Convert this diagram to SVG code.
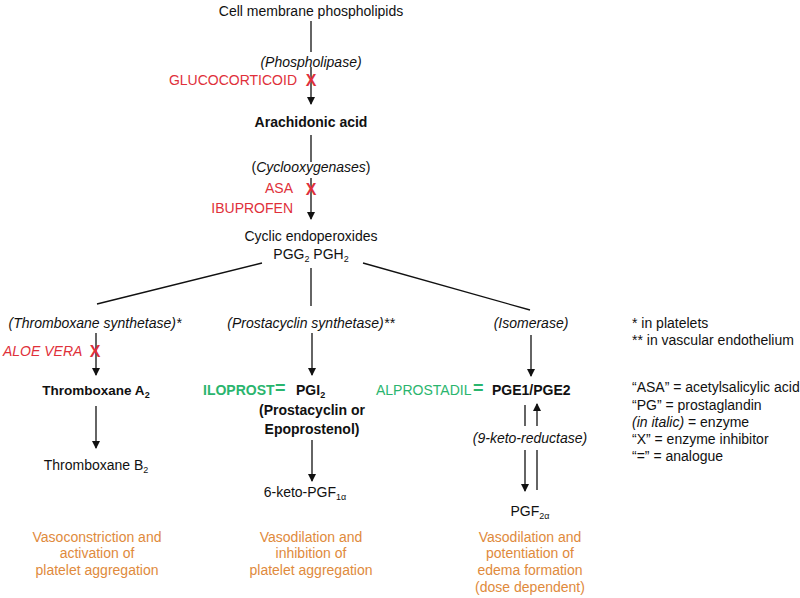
<svg xmlns="http://www.w3.org/2000/svg" width="800" height="598" viewBox="0 0 800 598">
<style>
text{font-family:"Liberation Sans",Arial,sans-serif;font-size:14px;fill:#111}
.c{text-anchor:middle}
.e{text-anchor:end}
.b{font-weight:bold}
.i{font-style:italic}
.red{fill:#e0303a}
.grn{fill:#2ab56e}
.org{fill:#e08a3c}
.x{fill:#e0303a;font-size:16px;font-weight:bold}
.eq{font-size:18px;font-weight:bold;fill:#2ab56e}
.ln{stroke:#111;stroke-width:1.3;fill:none}
.sub{font-size:9px}
</style>
<defs>
<marker id="ad" markerWidth="8" markerHeight="8" refX="7" refY="4" orient="auto" markerUnits="userSpaceOnUse" viewBox="0 0 8 8">
<path d="M0,0 L8,4 L0,8 Z" fill="#111"/>
</marker>
</defs>
<g id="connectors">
<line class="ln" x1="311" y1="21" x2="311" y2="52"/>
<line class="ln" x1="311" y1="67" x2="311" y2="104" marker-end="url(#ad)"/>
<line class="ln" x1="311" y1="135" x2="311" y2="162"/>
<line class="ln" x1="311" y1="178" x2="311" y2="219" marker-end="url(#ad)"/>
<line class="ln" x1="262" y1="263" x2="97" y2="304"/>
<line class="ln" x1="311" y1="268" x2="311" y2="306"/>
<line class="ln" x1="363" y1="263" x2="530" y2="310"/>
<line class="ln" x1="96" y1="333" x2="96" y2="375" marker-end="url(#ad)"/>
<line class="ln" x1="96" y1="406" x2="96" y2="448" marker-end="url(#ad)"/>
<line class="ln" x1="312" y1="333" x2="312" y2="375" marker-end="url(#ad)"/>
<line class="ln" x1="312" y1="440" x2="312" y2="481" marker-end="url(#ad)"/>
<line class="ln" x1="531" y1="335" x2="531" y2="376" marker-end="url(#ad)"/>
<line class="ln" x1="525" y1="405" x2="525" y2="426"/>
<line class="ln" x1="537" y1="426" x2="537" y2="404" marker-end="url(#ad)"/>
<line class="ln" x1="525" y1="450" x2="525" y2="491" marker-end="url(#ad)"/>
<line class="ln" x1="537" y1="450" x2="537" y2="490"/>
</g>
<g id="n-membrane"><text class="c" x="311" y="16">Cell membrane phospholipids</text></g>
<g id="n-phospholipase"><text class="c i" x="311" y="67">(Phospholipase)</text></g>
<g id="n-glucocorticoid"><text class="e red" x="297" y="85">GLUCOCORTICOID</text><text class="c x" x="311" y="86">X</text></g>
<g id="n-arachidonic"><text class="c b" x="311" y="127">Arachidonic acid</text></g>
<g id="n-cox"><text class="c" x="311" y="172">(<tspan class="i">Cyclooxygenases</tspan>)</text></g>
<g id="n-asa"><text class="e red" x="293" y="193">ASA</text><text class="e red" x="293" y="213">IBUPROFEN</text><text class="c x" x="311" y="195">X</text></g>
<g id="n-endoperoxides"><text class="c" x="311" y="241">Cyclic endoperoxides</text><text class="c" x="311" y="259">PGG<tspan class="sub" dy="3">2</tspan><tspan dy="-3"> PGH</tspan><tspan class="sub" dy="3">2</tspan></text></g>
<g id="n-txsynth"><text class="c i" x="95" y="328">(Thromboxane synthetase)*</text></g>
<g id="n-aloe"><text class="red i" x="3" y="356">ALOE VERA</text><text class="c x" x="95" y="357">X</text></g>
<g id="n-txa2"><text class="c b" x="96" y="395" style="font-size:13.5px">Thromboxane A<tspan class="sub" dy="3">2</tspan></text></g>
<g id="n-txb2"><text class="c" x="96" y="470">Thromboxane B<tspan class="sub" dy="3">2</tspan></text></g>
<g id="n-pgisynth"><text class="c i" x="311" y="328">(Prostacyclin synthetase)**</text></g>
<g id="n-pgi2"><text class="grn b" x="203" y="395">ILOPROST</text><text class="eq" x="275" y="394">=</text><text class="b" x="296" y="395">PGI<tspan class="sub" dy="3">2</tspan></text><text class="c b" x="312" y="415">(Prostacyclin or</text><text class="c b" x="312" y="434">Epoprostenol)</text></g>
<g id="n-6keto"><text class="c" x="305" y="497">6-keto-PGF<tspan class="sub" dy="3">1α</tspan></text></g>
<g id="n-isomerase"><text class="c i" x="531" y="328">(Isomerase)</text></g>
<g id="n-pge"><text class="grn" x="376" y="395">ALPROSTADIL</text><text class="eq" x="473" y="394">=</text><text class="b" x="492" y="395">PGE1/PGE2</text></g>
<g id="n-9keto"><text class="c i" x="530" y="443">(9-keto-reductase)</text></g>
<g id="n-pgf2a"><text class="c" x="530" y="516">PGF<tspan class="sub" dy="3">2α</tspan></text></g>
<g id="legend">
<text x="632" y="328">* in platelets</text>
<text x="632" y="345">** in vascular endothelium</text>
<text x="632" y="392">“ASA” = acetylsalicylic acid</text>
<text x="632" y="410">“PG” = prostaglandin</text>
<text x="632" y="427"><tspan class="i">(in italic)</tspan> = enzyme</text>
<text x="632" y="444">“X” = enzyme inhibitor</text>
<text x="632" y="461">“=” = analogue</text>
</g>
<g id="n-effect1"><text class="c org" x="97" y="542">Vasoconstriction and</text><text class="c org" x="97" y="558">activation of</text><text class="c org" x="97" y="575">platelet aggregation</text></g>
<g id="n-effect2"><text class="c org" x="311" y="542">Vasodilation and</text><text class="c org" x="311" y="558">inhibition of</text><text class="c org" x="311" y="575">platelet aggregation</text></g>
<g id="n-effect3"><text class="c org" x="530" y="542">Vasodilation and</text><text class="c org" x="530" y="558">potentiation of</text><text class="c org" x="530" y="575">edema formation</text><text class="c org" x="530" y="592">(dose dependent)</text></g>
</svg>
